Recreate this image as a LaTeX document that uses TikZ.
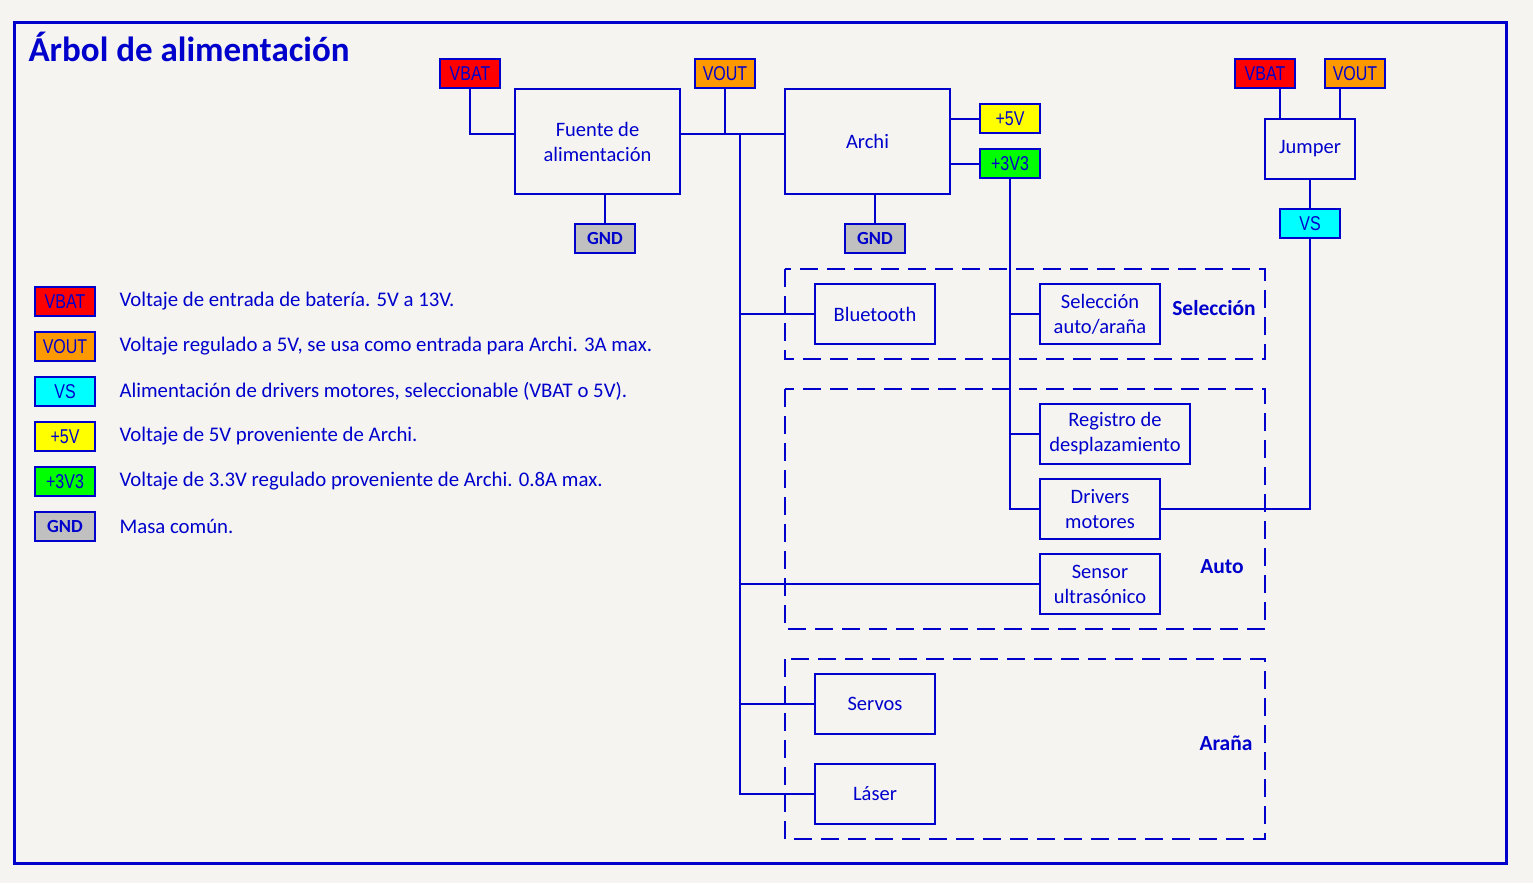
\documentclass[tikz,border=0pt]{standalone}
\usepackage{fontspec}
\setmainfont{Carlito}
\newfontfamily\tagfont[FakeStretch=0.8]{Liberation Sans}
\usetikzlibrary{positioning}
\definecolor{bgcol}{RGB}{245,244,240}
\definecolor{ink}{RGB}{0,0,204}
\definecolor{cvbat}{RGB}{255,0,0}
\definecolor{cvout}{RGB}{255,153,0}
\definecolor{cvs}{RGB}{0,255,255}
\definecolor{cfive}{RGB}{255,255,0}
\definecolor{cthree}{RGB}{0,255,0}
\definecolor{cgnd}{RGB}{192,192,192}
\begin{document}
\begin{tikzpicture}[x=1pt,y=-1pt,
  every node/.style={text=ink},
  block/.style={draw=ink, line width=2pt, fill=none, inner sep=0pt,
    align=center, font=\fontsize{20.5}{25}\selectfont},
  tag/.style={draw=ink, line width=2pt, inner sep=0pt, minimum width=60pt,
    minimum height=29pt, font=\tagfont\fontsize{20}{22}\selectfont},
  gndtag/.style={tag, fill=cgnd, font=\bfseries\fontsize{18.5}{20}\selectfont},
  wire/.style={draw=ink, line width=2pt},
  groupbox/.style={draw=ink, line width=2pt, dash pattern=on 18pt off 9pt},
  grouplabel/.style={font=\bfseries\fontsize{21.5}{24}\selectfont},
  legendtext/.style={anchor=west, font=\fontsize{20.8}{24}\selectfont}]

% page background and frame
\fill[bgcol] (0,0) rectangle (1533,883);
\draw[ink, line width=3pt] (14,23) rectangle (1506,863);

\node[anchor=base west, font=\bfseries\fontsize{35}{38}\selectfont] (title) at (25,61) {Árbol de alimentación};

% power source and main board
\node[tag, fill=cvbat] (vbat1) at (470,73.5) {VBAT};
\node[tag, fill=cvout] (vout1) at (725,73.5) {VOUT};
\node[block, minimum width=165pt, minimum height=105pt] (fuente) at (597.5,141.5) {Fuente de\\alimentación};
\node[block, minimum width=165pt, minimum height=105pt] (archi) at (867.5,141.5) {Archi};
\node[tag, fill=cfive] (p5v) at (1010,118.5) {+5V};
\node[tag, fill=cthree] (p3v3) at (1010,163.5) {+3V3};
\node[gndtag] (gnd1) at (605,238.5) {GND};
\node[gndtag] (gnd2) at (875,238.5) {GND};

% jumper selecting the motor supply
\node[tag, fill=cvbat] (vbat2) at (1265,73.5) {VBAT};
\node[tag, fill=cvout] (vout2) at (1355,73.5) {VOUT};
\node[block, minimum width=90pt, minimum height=60pt] (jumper) at (1310,149) {Jumper};
\node[tag, fill=cvs] (vs) at (1310,223.5) {VS};

% groups
\draw[groupbox] (785,269) rectangle (1265,359);
\draw[groupbox] (785,389) rectangle (1265,629);
\draw[groupbox] (785,659) rectangle (1265,839);
\node[grouplabel] (lsel) at (1214,308) {Selección};
\node[grouplabel] (lauto) at (1222,567) {Auto};
\node[grouplabel] (larana) at (1226,743) {Araña};

% loads
\node[block, minimum width=120pt, minimum height=60pt] (bt) at (875,314) {Bluetooth};
\node[block, minimum width=120pt, minimum height=60pt] (sel) at (1100,314) {Selección\\auto/araña};
\node[block, minimum width=150pt, minimum height=60pt] (reg) at (1115,434) {Registro de\\desplazamiento};
\node[block, minimum width=120pt, minimum height=60pt] (drv) at (1100,509) {Drivers\\motores};
\node[block, minimum width=120pt, minimum height=60pt] (sens) at (1100,584) {Sensor\\ultrasónico};
\node[block, minimum width=120pt, minimum height=60pt] (servos) at (875,704) {Servos};
\node[block, minimum width=120pt, minimum height=60pt] (laser) at (875,794) {Láser};

% wiring
\coordinate (fout) at ([yshift=7.5pt]fuente.east);
\coordinate (bustop) at (740,134);
\draw[wire] (vbat1.south) |- ([yshift=7.5pt]fuente.west);
\draw[wire] (fout) -- ([yshift=7.5pt]archi.west);
\draw[wire] (vout1.south) -- (vout1.south |- fout);
\draw[wire] (fuente.south -| gnd1.north) -- (gnd1.north);
\draw[wire] (archi.south -| gnd2.north) -- (gnd2.north);
\draw[wire] (p5v.west -| archi.east) -- (p5v.west);
\draw[wire] (p3v3.west -| archi.east) -- (p3v3.west);

% 5V bus
\draw[wire] (bustop) |- (laser.west);
\draw[wire] (bt.west -| bustop) -- (bt.west);
\draw[wire] (sens.west -| bustop) -- (sens.west);
\draw[wire] (servos.west -| bustop) -- (servos.west);

% 3V3 bus
\draw[wire] (p3v3.south) |- (drv.west);
\draw[wire] (sel.west -| p3v3.south) -- (sel.west);
\draw[wire] (reg.west -| p3v3.south) -- (reg.west);

% motor supply
\coordinate (jin1) at ([xshift=15pt]vbat2.south);
\coordinate (jin2) at ([xshift=-15pt]vout2.south);
\draw[wire] (jin1) -- (jin1 |- jumper.north);
\draw[wire] (jin2) -- (jin2 |- jumper.north);
\draw[wire] (jumper.south) -- (vs.north);
\draw[wire] (vs.south) |- (drv.east);

% legend
\node[tag, fill=cvbat] (k1) at (65,301.5) {VBAT};
\node[tag, fill=cvout] (k2) at (65,346.5) {VOUT};
\node[tag, fill=cvs] (k3) at (65,391.5) {VS};
\node[tag, fill=cfive] (k4) at (65,436.5) {+5V};
\node[tag, fill=cthree] (k5) at (65,481.5) {+3V3};
\node[gndtag] (k6) at (65,526.5) {GND};
\node[legendtext] (t1) at (116,301) {Voltaje de entrada de batería. 5V a 13V.};
\node[legendtext] (t2) at (116,346) {Voltaje regulado a 5V, se usa como entrada para Archi. 3A max.};
\node[legendtext] (t3) at (116,391) {Alimentación de drivers motores, seleccionable (VBAT o 5V).};
\node[legendtext] (t4) at (116,436) {Voltaje de 5V proveniente de Archi.};
\node[legendtext] (t5) at (116,481) {Voltaje de 3.3V regulado proveniente de Archi. 0.8A max.};
\node[legendtext] (t6) at (116,526) {Masa común.};
\end{tikzpicture}
\end{document}
